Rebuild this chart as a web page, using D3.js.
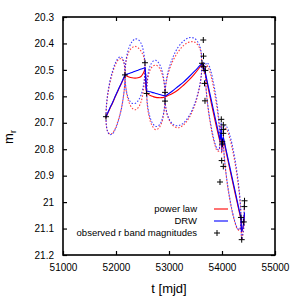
<!DOCTYPE html>
<html><head><meta charset="utf-8">
<script src="https://cdn.jsdelivr.net/npm/d3@7"></script>
<style>body{margin:0;background:#fff}svg{display:block}text{font-family:"Liberation Sans",Arial,sans-serif}</style>
</head><body><svg id="c" width="300" height="300"></svg>
<script>
// ---- data ----
const xTicks = [51000, 52000, 53000, 54000, 55000];
const yTicks = [20.3, 20.4, 20.5, 20.6, 20.7, 20.8, 20.9, 21.0, 21.1, 21.2];
const seriesNames = ["power law", "DRW", "observed r band magnitudes"];

// observed r band magnitudes
const obsT = [51811, 52170, 52547, 52579, 52925, 52925, 53647, 53651, 53623, 53651, 53685, 53670, 53679,
  53987, 54025, 54025, 54025, 54006, 54006, 53994, 54025, 53962, 54425, 54421, 54358, 54411, 54372];
const obsMag = [20.677, 20.519, 20.473, 20.589, 20.585, 20.618, 20.387, 20.448, 20.475, 20.488, 20.502, 20.551, 20.617,
  20.687, 20.708, 20.725, 20.740, 20.772, 20.780, 20.843, 20.865, 20.924, 20.995, 21.017, 21.058, 21.075, 21.142];

// model time grid
const tGrid = [
  51811, 51818, 51840, 51883, 51937, 51990, 52044, 52098, 52141, 52163,
  52170, 52178, 52200, 52245, 52302, 52359, 52415, 52472, 52517, 52539,
  52547, 52563,
  52579, 52586, 52607, 52648, 52700, 52752, 52804, 52856, 52897, 52918,
  52925, 52939, 52981, 53065, 53169, 53274, 53379, 53483, 53567, 53609,
  53623, 53651,
  53685, 53691, 53707, 53740, 53782, 53824, 53865, 53907, 53940, 53956,
  53962, 53987, 53994, 54006,
  54025, 54032, 54052, 54092, 54142, 54192, 54241, 54291, 54331, 54351,
  54358, 54372, 54411, 54421, 54425];

// DRW model: mean and 1-sigma
const drwMean = [
  20.677, 20.674, 20.664, 20.645, 20.622, 20.598, 20.574, 20.551, 20.532, 20.522,
  20.519, 20.518, 20.517, 20.514, 20.510, 20.505, 20.501, 20.497, 20.494, 20.492,
  20.490, 20.540,
  20.580, 20.580, 20.581, 20.583, 20.586, 20.589, 20.592, 20.595, 20.597, 20.598,
  20.600, 20.598, 20.592, 20.580, 20.563, 20.546, 20.526, 20.505, 20.487, 20.478,
  20.475, 20.488,
  20.510, 20.515, 20.530, 20.561, 20.599, 20.638, 20.676, 20.714, 20.745, 20.760,
  20.765, 20.720, 20.790, 20.775,
  20.755, 20.761, 20.779, 20.816, 20.862, 20.908, 20.953, 20.999, 21.036, 21.054,
  21.060, 21.110, 21.075, 21.050, 21.040];
const drwSigma = [
  0, .035, .068, .100, .119, .125, .119, .100, .068, .035,
  0, .034, .066, .098, .116, .122, .116, .098, .066, .034,
  .008, .020,
  .005, .035, .068, .100, .119, .125, .119, .100, .068, .035,
  .005, .043, .084, .124, .148, .155, .148, .124, .084, .043,
  .006, .015,
  .005, .029, .057, .084, .100, .105, .100, .084, .057, .029,
  .008, .020, .020, .015,
  .006, .035, .068, .100, .119, .125, .119, .100, .068, .035,
  .008, .030, .020, .030, .040];

// power law model: mean and 1-sigma
const plMean = [
  20.679, 20.676, 20.666, 20.647, 20.624, 20.600, 20.576, 20.553, 20.534, 20.524,
  20.519, 20.520, 20.523, 20.527, 20.530, 20.531, 20.530, 20.525, 20.512, 20.500,
  20.494, 20.545,
  20.588, 20.589, 20.592, 20.597, 20.601, 20.604, 20.605, 20.605, 20.604, 20.603,
  20.603, 20.601, 20.597, 20.589, 20.576, 20.558, 20.538, 20.515, 20.494, 20.481,
  20.478, 20.493,
  20.515, 20.521, 20.537, 20.570, 20.610, 20.650, 20.688, 20.725, 20.753, 20.766,
  20.770, 20.730, 20.795, 20.780,
  20.760, 20.766, 20.785, 20.823, 20.870, 20.916, 20.961, 21.006, 21.042, 21.059,
  21.063, 21.113, 21.078, 21.053, 21.043];
const plSigma = [
  0, .034, .065, .096, .114, .120, .114, .096, .065, .034,
  0, .034, .065, .096, .114, .120, .114, .096, .065, .034,
  .008, .020,
  .005, .034, .066, .098, .116, .122, .116, .098, .066, .034,
  .005, .042, .081, .120, .143, .150, .143, .120, .081, .042,
  .006, .015,
  .005, .028, .054, .080, .095, .100, .095, .080, .054, .028,
  .008, .020, .020, .015,
  .006, .034, .065, .096, .114, .120, .114, .096, .065, .034,
  .008, .030, .020, .030, .040];

// ---- drawing ----
const svg = d3.select("#c");
const L = 63, R = 275, T = 17, B = 255;
const x = d3.scaleLinear().domain([51000, 55000]).range([L, R]);
const y = d3.scaleLinear().domain([20.3, 21.2]).range([T, B]);

const RED = "#ff0000", BLUE = "#0000ff";
const line = d3.line().x(d => x(d[0])).y(d => y(d[1])).curve(d3.curveCatmullRom.alpha(0.5));

function drawModel(mean, sigma, color) {
  const m = tGrid.map((t, i) => [t, mean[i]]);
  const up = tGrid.map((t, i) => [t, mean[i] - sigma[i]]);
  const lo = tGrid.map((t, i) => [t, mean[i] + sigma[i]]);
  [up, lo].forEach(p => svg.append("path").attr("d", line(p)).attr("fill", "none")
    .attr("stroke", color).attr("stroke-width", 1.1).attr("stroke-dasharray", "1.5,1.7").attr("opacity", 0.75));
  svg.append("path").attr("d", line(m)).attr("fill", "none").attr("stroke", color).attr("stroke-width", 1.1);
}
drawModel(plMean, plSigma, RED);
drawModel(drwMean, drwSigma, BLUE);

// observed points
function plus(sel, cx, cy, s) {
  sel.append("path").attr("d", `M${cx - s},${cy}H${cx + s}M${cx},${cy - s}V${cy + s}`)
    .attr("stroke", "#000").attr("stroke-width", 1).attr("fill", "none");
}
obsT.forEach((t, i) => plus(svg, x(t), y(obsMag[i]), 3));

// axes
const fmtY = d => String(+d.toFixed(1));
const ax = svg.append("g").attr("font-size", 13);
ax.append("g").attr("transform", `translate(0,${B})`)
  .call(d3.axisBottom(x).tickValues(xTicks).tickFormat(d3.format("d")).tickSize(-4).tickPadding(9));
ax.append("g").attr("transform", `translate(0,${T})`)
  .call(d3.axisTop(x).tickValues(xTicks).tickFormat("").tickSize(-4));
ax.append("g").attr("transform", `translate(${L},0)`)
  .call(d3.axisLeft(y).tickValues(yTicks).tickFormat(fmtY).tickSize(-4).tickPadding(9));
ax.append("g").attr("transform", `translate(${R},0)`)
  .call(d3.axisRight(y).tickValues(yTicks).tickFormat("").tickSize(-4));
ax.selectAll(".domain").remove();
ax.selectAll(".tick line").attr("stroke", "#000").attr("stroke-width", 1.2);
ax.selectAll("text").attr("fill", "#000").attr("font-family", "Liberation Sans, Arial, sans-serif");
svg.append("rect").attr("x", L).attr("y", T).attr("width", R - L).attr("height", B - T)
  .attr("fill", "none").attr("stroke", "#000").attr("stroke-width", 1.6);

// axis titles
svg.append("text").attr("x", 169).attr("y", 293).attr("text-anchor", "middle").attr("font-size", 13).text("t [mjd]");
const yl = svg.append("text").attr("transform", "translate(13,137) rotate(-90)").attr("text-anchor", "middle").attr("font-size", 13);
yl.append("tspan").text("m");
yl.append("tspan").attr("font-size", 9).attr("dy", 3).text("r");

// legend
const lg = svg.append("g").attr("font-size", 9.5);
const rows = [209, 221, 233];
seriesNames.forEach((n, i) => {
  lg.append("text").attr("x", 197).attr("y", rows[i]).attr("dy", "0.35em").attr("text-anchor", "end").text(n);
});
lg.append("line").attr("x1", 214).attr("x2", 228).attr("y1", rows[0]).attr("y2", rows[0]).attr("stroke", RED).attr("stroke-width", 1.1);
lg.append("line").attr("x1", 214).attr("x2", 228).attr("y1", rows[1]).attr("y2", rows[1]).attr("stroke", BLUE).attr("stroke-width", 1.1);
plus(lg, 217, rows[2], 3);
</script></body></html>
